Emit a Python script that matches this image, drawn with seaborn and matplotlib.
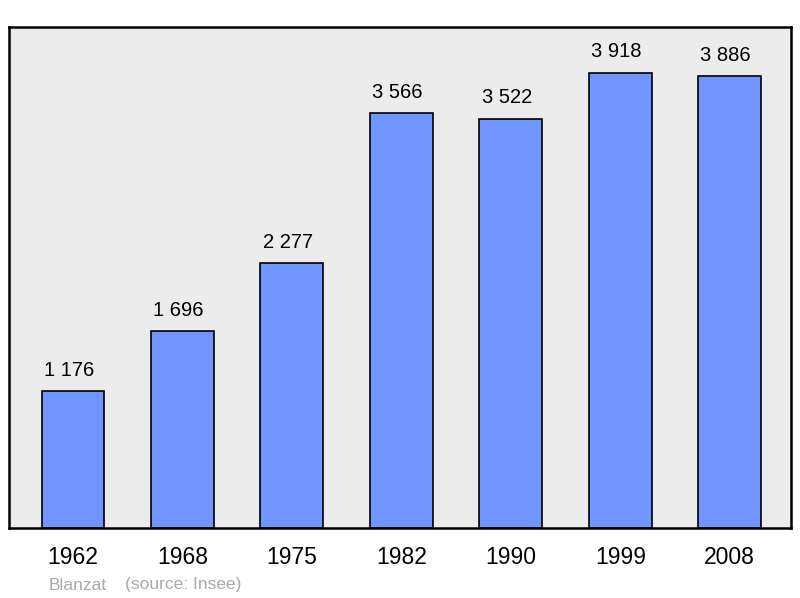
import matplotlib
matplotlib.use("Agg")
import matplotlib.pyplot as plt
import seaborn as sns
import pandas as pd

years = ["1962", "1968", "1975", "1982", "1990", "1999", "2008"]
population = [1176, 1696, 2277, 3566, 3522, 3918, 3886]
value_labels = ["1 176", "1 696", "2 277", "3 566", "3 522", "3 918", "3 886"]
town = "Blanzat"
source = "(source: Insee)"

sns.set_theme(style="white")
plt.rcParams['font.family'] = ['Liberation Sans', 'DejaVu Sans']

df = pd.DataFrame({"year": years, "pop": population})

fig = plt.figure(figsize=(8, 5.98), dpi=100)
ax = fig.add_axes([9/800, 1-528/598, 782/800, 501/598])
ax.set_facecolor("#ececec")

sns.barplot(data=df, x="year", y="pop", color="#7095ff", saturation=1,
            width=0.575, edgecolor="black", linewidth=1.2, ax=ax)

ax.set_xlim(-0.585, 6.56)
ax.set_ylim(0, 4310)
ax.set_yticks([])
ax.set_xlabel("")
ax.set_ylabel("")
ax.tick_params(axis="x", length=0, labelsize=16.5, pad=13, colors="black")
for s in ax.spines.values():
    s.set_visible(True)
    s.set_color("black")
    s.set_linewidth(1.8)

for i, (v, lab) in enumerate(zip(population, value_labels)):
    ax.annotate(lab, (i, v), xytext=(-3, 8), textcoords="offset points",
                ha="center", va="bottom", fontsize=14.5, color="black")

fig.text(49/800, 1-585/598, town, fontsize=12.5, color="#aaaaaa", va="center", ha="left")
fig.text(125/800, 1-585/598, source, fontsize=12.5, color="#aaaaaa", va="center", ha="left")

fig.savefig("out.png", dpi=100)
